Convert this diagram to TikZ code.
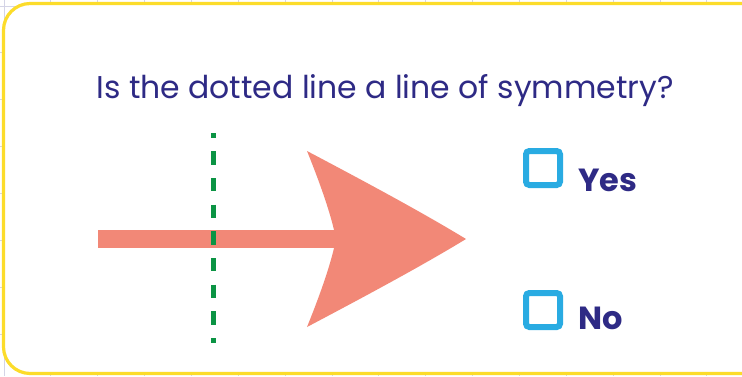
\documentclass[tikz,border=0pt]{standalone}
\usepackage{fontspec}
\newfontfamily\pop{Poppins}
\definecolor{ink}{HTML}{2E2A85}
\definecolor{salmon}{HTML}{F28877}
\definecolor{symgreen}{HTML}{0B9444}
\definecolor{boxcyan}{HTML}{29ABE2}
\definecolor{panelyellow}{HTML}{FCDC2A}
\definecolor{gridc}{HTML}{D4D4E6}
\tikzset{
  gridline/.style={draw=gridc, line width=0.6pt},
  panel/.style={draw=panelyellow, line width=2.4pt, fill=white, rounded corners=20pt},
  cbox/.style={draw=boxcyan, line width=4.5pt, rounded corners=2.5pt, minimum size=25.5pt, inner sep=0pt},
  answer/.style={font=\pop\bfseries\fontsize{24}{24}\selectfont, text=ink, inner sep=0pt, anchor=base west},
  title/.style={font=\pop\fontsize{23.6}{24}\selectfont, text=ink, inner sep=0pt, anchor=base},
  symline/.style={draw=symgreen, line width=3.75pt, dash pattern=on 10pt off 10pt, dash phase=6.25pt},
}
\begin{document}
\begin{tikzpicture}[x=0.75pt,y=-0.75pt]
\useasboundingbox (0,0) rectangle (742,376);
\fill[white] (0,0) rectangle (742,376);
\begin{scope}
  \clip (0,0) rectangle (742,376);
  \foreach \i in {0,...,15} \draw[gridline] ({4+46.85*\i},0) -- ({4+46.85*\i},376);
  \foreach \j in {0,...,8} \draw[gridline] (0,{6+46.85*\j}) -- (742,{6+46.85*\j});
  \path[panel] (3.5,3.5) rectangle (800,373.5);
\end{scope}
\node[title] (question) at (385,98) {Is the dotted line a line of symmetry?};
% arrow
\fill[salmon] (98,230) rectangle (340,248);
\fill[salmon] (307,151) .. controls (360,179) and (420,211) .. (466,239)
  .. controls (420,267) and (360,299) .. (307,327)
  .. controls (322,290) and (332,260) .. (336,239)
  .. controls (332,218) and (322,188) .. (307,151) -- cycle;
% line of symmetry
\draw[symline] (213,133) -- (213,343);
% answers
\node[cbox] (yesbox) at (543,168) {};
\node[answer] (yes) at (578,191) {Yes};
\node[cbox] (nobox) at (543,310) {};
\node[answer] (no) at (578,329) {No};
\end{tikzpicture}
\end{document}
